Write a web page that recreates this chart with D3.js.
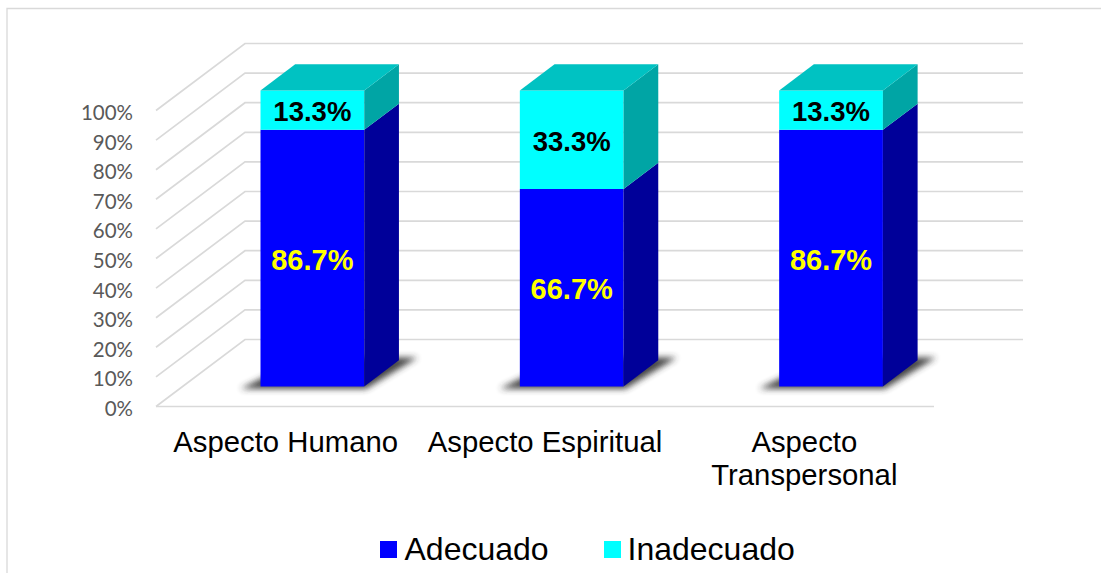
<!DOCTYPE html>
<html>
<head>
<meta charset="utf-8">
<script src="https://cdn.jsdelivr.net/npm/d3@7"></script>
<style>
  html, body { margin: 0; padding: 0; background: #fff; overflow: hidden; }
  svg { display: block; font-family: "Liberation Sans", Arial, sans-serif; }
</style>
</head>
<body>
<div id="chart"></div>
<script>
const categories = ["Aspecto Humano", "Aspecto Espiritual", "Aspecto Transpersonal"];
const categoryLines = [["Aspecto Humano"], ["Aspecto Espiritual"], ["Aspecto", "Transpersonal"]];
const adecuado = [86.7, 66.7, 86.7];
const inadecuado = [13.3, 33.3, 13.3];
const seriesNames = ["Adecuado", "Inadecuado"];
const tickValues = [0, 10, 20, 30, 40, 50, 60, 70, 80, 90, 100];

const width = 1101, height = 573;
const plot = { left: 156, right: 934, bottom: 406.5, top: 110.5 };
const depth = { dx: 89, dy: -67 };
const barDepth = { z0: 0.3, z1: 0.69 };

const colors = {
  Adecuado: { front: "#0000ff", side: "#000099", top: "#0000cc" },
  Inadecuado: { front: "#00ffff", side: "#00a5a5", top: "#00c2c2" }
};

const svg = d3.select("#chart").append("svg")
    .attr("width", width)
    .attr("height", height);

// ombre floue sous les barres
const defs = svg.append("defs");
defs.append("filter").attr("id", "blur")
    .attr("x", "-20%").attr("y", "-40%").attr("width", "140%").attr("height", "180%")
    .append("feGaussianBlur").attr("stdDeviation", 3.4);

// Cadre (seulement haut et gauche visibles)
svg.append("path")
    .attr("d", `M7,${height}V8.5H${width}`)
    .attr("fill", "none")
    .attr("stroke", "#d9d9d9")
    .attr("stroke-width", 1.3);

// Echelles
const x = d3.scaleBand().domain(categories).range([plot.left, plot.right]).paddingInner(0.6).paddingOuter(0.3);
const y = d3.scaleLinear().domain([0, 100]).range([plot.bottom, plot.top]);

// projection oblique : valeur x (pixels), valeur y, profondeur z (0..1)
const project = (px, v, z) => [px + depth.dx * z, y(v) + depth.dy * z];
const poly = pts => pts.map(p => p.join(",")).join(" ");

// Grille : mur du fond + diagonales du plancher
const grid = svg.append("g")
    .attr("fill", "none")
    .attr("stroke", "#d9d9d9")
    .attr("stroke-width", 1.7);

grid.selectAll("polyline")
    .data(tickValues)
    .join("polyline")
    .attr("points", d => poly([project(plot.left, d, 0), project(plot.left, d, 1), project(plot.right, d, 1)]));

grid.append("line")
    .attr("x1", plot.left).attr("x2", plot.right)
    .attr("y1", y(0)).attr("y2", y(0));

// Axe Y
const axis = svg.append("g")
    .attr("transform", `translate(${plot.left},0)`)
    .call(d3.axisLeft(y).tickValues(tickValues).tickFormat(d => d + "%").tickSize(0).tickPadding(23));
axis.select(".domain").remove();
axis.selectAll("text")
    .style("font-size", "20.5px")
    .style("font-family", "Lato, 'Liberation Sans', sans-serif")
    .attr("y", 2.5)
    .attr("fill", "#595959");

// Barres
const stacks = categories.map((c, i) => ({
  category: c,
  parts: [
    { name: seriesNames[0], v0: 0, v1: adecuado[i], value: adecuado[i], labelColor: "#ffff00" },
    { name: seriesNames[1], v0: adecuado[i], v1: adecuado[i] + inadecuado[i], value: inadecuado[i], labelColor: "#000000" }
  ]
}));

const bars = svg.append("g").selectAll("g")
    .data(stacks)
    .join("g");

bars.append("polygon")
    .attr("filter", "url(#blur)")
    .attr("fill", "#333333")
    .attr("opacity", 0.9)
    .attr("points", d => {
      const l = x(d.category), r = l + x.bandwidth();
      return poly([
        project(l - 17, 0, barDepth.z0 - 0.035),
        project(r + 5, 0, barDepth.z0 - 0.035),
        project(r + 15, 0, barDepth.z1 + 0.04),
        project(l + 5, 0, barDepth.z1 + 0.04)
      ]);
    });

const parts = bars.selectAll("g.part")
    .data(d => d.parts.map(p => ({ ...p, category: d.category })))
    .join("g")
    .attr("class", "part");

parts.append("polygon")
    .attr("fill", d => colors[d.name].front)
    .attr("points", d => {
      const l = x(d.category), r = l + x.bandwidth();
      return poly([project(l, d.v0, barDepth.z0), project(r, d.v0, barDepth.z0), project(r, d.v1, barDepth.z0), project(l, d.v1, barDepth.z0)]);
    });

parts.append("polygon")
    .attr("fill", d => colors[d.name].side)
    .attr("points", d => {
      const r = x(d.category) + x.bandwidth();
      return poly([project(r, d.v0, barDepth.z0), project(r, d.v0, barDepth.z1), project(r, d.v1, barDepth.z1), project(r, d.v1, barDepth.z0)]);
    });

parts.filter(d => d.name === seriesNames[1]).append("polygon")
    .attr("fill", d => colors[d.name].top)
    .attr("points", d => {
      const l = x(d.category), r = l + x.bandwidth();
      return poly([project(l, d.v1, barDepth.z0), project(r, d.v1, barDepth.z0), project(r, d.v1, barDepth.z1), project(l, d.v1, barDepth.z1)]);
    });

// Etiquettes de valeurs
parts.append("text")
    .attr("x", d => project(x(d.category) + x.bandwidth() / 2, 0, barDepth.z0)[0])
    .attr("y", d => project(0, (d.v0 + d.v1) / 2, barDepth.z0)[1] + 1)
    .attr("dy", "0.36em")
    .attr("text-anchor", "middle")
    .attr("font-weight", "bold")
    .attr("font-size", d => d.name === seriesNames[0] ? 29 : 27.5)
    .attr("fill", d => d.labelColor)
    .text(d => d.value.toFixed(1) + "%");

// Categories
const catLabels = svg.append("g").selectAll("text")
    .data(categories)
    .join("text")
    .attr("text-anchor", "middle")
    .attr("font-size", 29.3)
    .attr("fill", "#000")
    .attr("x", d => x(d) + x.bandwidth() / 2)
    .attr("y", 452);

catLabels.selectAll("tspan")
    .data((d, i) => categoryLines[i])
    .join("tspan")
    .attr("x", function () { return d3.select(this.parentNode).attr("x"); })
    .attr("dy", (d, i) => i === 0 ? 0 : 33)
    .text(d => d);

// Legende
const legendPos = [{ sq: 380, txt: 404.5 }, { sq: 604, txt: 627.5 }];
const legend = svg.append("g").selectAll("g")
    .data(seriesNames)
    .join("g");

legend.append("rect")
    .attr("x", (d, i) => legendPos[i].sq)
    .attr("y", 541)
    .attr("width", 17)
    .attr("height", 17)
    .attr("fill", d => colors[d].front);

legend.append("text")
    .attr("x", (d, i) => legendPos[i].txt)
    .attr("y", 559.5)
    .attr("font-size", 32)
    .attr("fill", "#000")
    .text(d => d);
</script>
</body>
</html>
